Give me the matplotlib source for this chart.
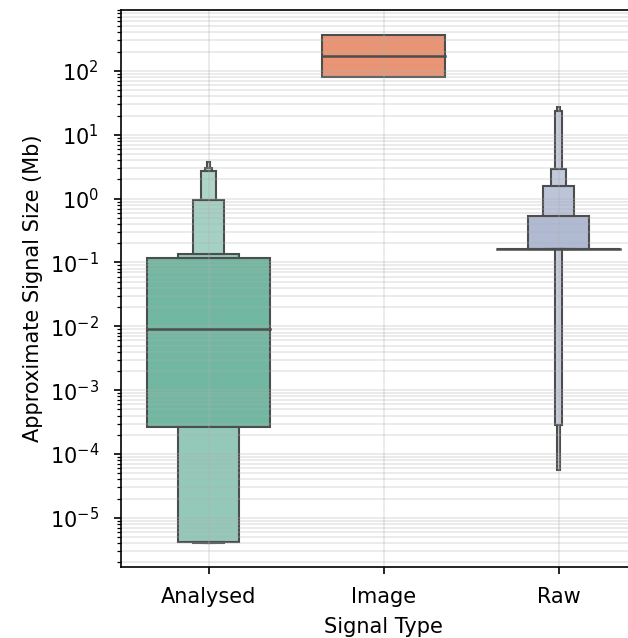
import numpy as np
import matplotlib
matplotlib.use("Agg")
import matplotlib.pyplot as plt
from matplotlib.colors import to_rgb
from matplotlib.ticker import LogLocator

# letter-value levels (widest box first)
categories = ["Analysed", "Image", "Raw"]

analysed_lo = [2.66e-4, 4.2e-6, 4.0e-6, 4.0e-6, 4.0e-6, 4.0e-6]
analysed_hi = [0.118, 0.136, 0.955, 2.72, 3.03, 3.76]
analysed_median = 0.0091

image_lo = [80.5]
image_hi = [366.0]
image_median = 172.0

raw_lo = [0.163, 0.163, 0.163, 0.163, 2.88e-4, 5.6e-5]
raw_hi = [0.163, 0.537, 1.58, 2.92, 23.6, 27.3]
raw_median = 0.163

# Set2 desaturated like seaborn does
base_colors = ["#71b7a1", "#e99575", "#95a3c3"]

lows = [analysed_lo, image_lo, raw_lo]
highs = [analysed_hi, image_hi, raw_hi]
medians = [analysed_median, image_median, raw_median]

fig = plt.figure(figsize=(628 / 150, 638 / 150), dpi=150)
ax = fig.add_axes([121 / 628, 1 - 567 / 638, 525 / 628, 557 / 638])

edge = "#4d4d4d"
fade = [0.0, 0.25, 0.36, 0.42, 0.47, 0.52]

for i, (lo, hi, med) in enumerate(zip(lows, highs, medians)):
    base = np.array(to_rgb(base_colors[i]))
    for k in range(len(lo)):
        w = 0.7 / 2 ** k
        col = base + (1 - base) * fade[k]
        if k == 0:
            ax.bar(i, hi[0] - lo[0], bottom=lo[0], width=w, color=col,
                   edgecolor=edge, linewidth=1.0)
        else:
            ax.bar(i, hi[k] - hi[k - 1], bottom=hi[k - 1], width=w, color=col,
                   edgecolor=edge, linewidth=1.0)
            ax.bar(i, lo[k - 1] - lo[k], bottom=lo[k], width=w, color=col,
                   edgecolor=edge, linewidth=1.0)
    ax.plot([i - 0.35, i + 0.35], [med, med], color=edge, linewidth=1.2, zorder=3)

ax.set_yscale("log")
ax.set_ylim(1.7e-6, 900)
ax.set_xlim(-0.5, 2.5)
ax.set_xticks(range(len(categories)))
ax.set_xticklabels(categories)
ax.yaxis.set_major_locator(LogLocator(base=10, numticks=30))
ax.yaxis.set_minor_locator(LogLocator(base=10, subs=np.arange(2, 10), numticks=100))
ax.tick_params(axis="y", which="major", pad=7)
ax.tick_params(axis="x", which="major", pad=6)

ax.grid(True, which="both", color="#b0b0b0", alpha=0.3, linewidth=0.8)

ax.set_xlabel("Signal Type", labelpad=5)
ax.set_ylabel("Approximate Signal Size (Mb)", labelpad=3)

fig.savefig("out.png", dpi=150)
